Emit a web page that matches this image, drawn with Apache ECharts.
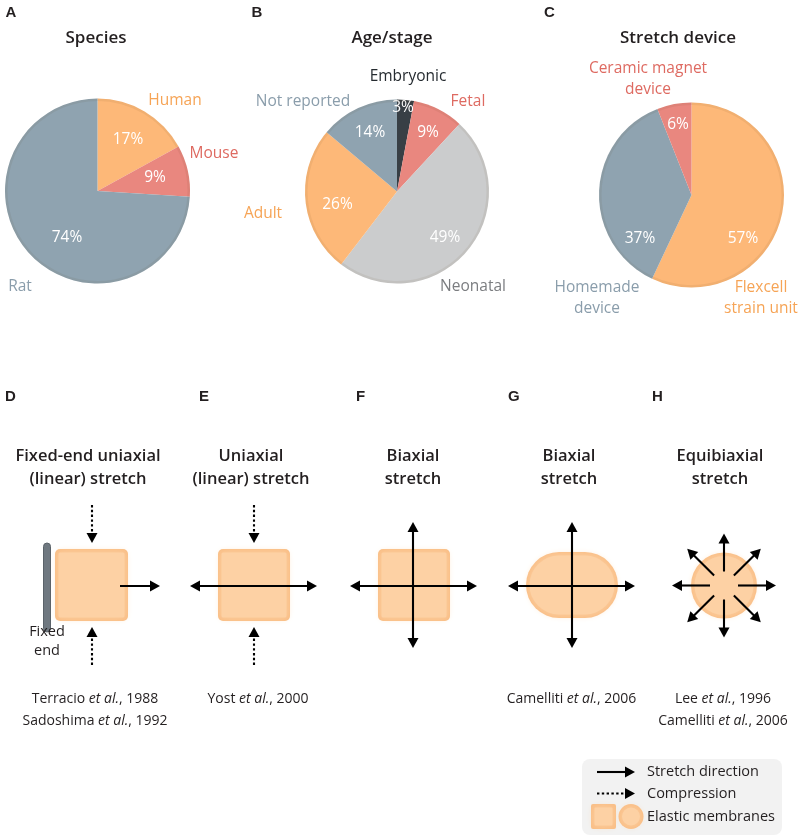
<!DOCTYPE html>
<html><head><meta charset="utf-8">
<script src="https://cdn.jsdelivr.net/npm/echarts@6/dist/echarts.min.js"></script>
<style>html,body{margin:0;padding:0;background:#fff}#c{width:800px;height:838px}</style>
</head><body><div id="c"></div>
<script>
// ---- data ----
const speciesNames = ['Human', 'Mouse', 'Rat'];
const speciesValues = [17, 9, 74];
const stageNames = ['Embryonic', 'Fetal', 'Neonatal', 'Adult', 'Not reported'];
const stageValues = [3, 9, 49, 26, 14];
const deviceNames = ['Flexcell\nstrain unit', 'Homemade\ndevice', 'Ceramic magnet\ndevice'];
const deviceValues = [57, 37, 6];
const pieTitles = ['Species', 'Age/stage', 'Stretch device'];
const stretchTitles = ['Fixed-end uniaxial\n(linear) stretch', 'Uniaxial\n(linear) stretch', 'Biaxial\nstretch', 'Biaxial\nstretch', 'Equibiaxial\nstretch'];
const citations = [
  ['Terracio', '1988', 'Sadoshima', '1992'],
  ['Yost', '2000'],
  [],
  ['Camelliti', '2006'],
  ['Lee', '1996', 'Camelliti', '2006']
];
const legendItems = ['Stretch direction', 'Compression', 'Elastic membranes'];

// ---- styles / layout ----
const F = '"Open Sans", "Noto Sans", sans-serif';
const FB = '"Liberation Sans", Arial, sans-serif';
const C = {orange:'#fdb878', red:'#e9877f', blue:'#8fa3b0', grey:'#cbcccd', dark:'#383f45'};
const T = {orange:'#f6a456', red:'#de6a61', blue:'#8a9dab', grey:'#7b7d80', dark:'#252b30'};
const INK = '#231f20';

const pies = [
  {names: speciesNames, values: speciesValues, fills:[C.orange, C.red, C.blue], text:[T.orange, T.red, T.blue],
   center:[97.5, 191], r:92.5, title:[96, 38], letter:['A', 5.5, 12.5],
   pct:[[128,140],[155,178],[67,238]], lab:[[175,101],[214,154],[20,287]]},
  {names: stageNames, values: stageValues, fills:[C.dark, C.red, C.grey, C.orange, C.blue], text:[T.dark, T.red, T.grey, T.orange, T.blue],
   center:[397, 191.5], r:92, title:[392, 38], letter:['B', 251.5, 12.5],
   pct:[[403,108],[428,132.5],[445,238],[337.5,205],[370,132.5]], lab:[[408,76.5],[468,101.5],[473,286.5],[263,214],[303,101.5]]},
  {names: deviceNames, values: deviceValues, fills:[C.orange, C.blue, C.red], text:[T.orange, T.blue, T.red],
   center:[691.5, 195], r:92.5, title:[678, 38], letter:['C', 544, 12.5],
   pct:[[743,239],[640,239],[678,125]], lab:[[761,298],[597,298],[648,79]]}
];

const series = [];
pies.forEach(p => {
  const base = {type:'pie', center:p.center, radius:p.r, startAngle:90, clockwise:true, silent:true,
    animation:false, avoidLabelOverlap:false, labelLine:{show:false}};
  series.push(Object.assign({}, base, {
    data: p.names.map((n, i) => ({name:n, value:p.values[i], itemStyle:{color:p.fills[i]}})),
    label:{show:true, position:'inside', formatter:'{c}%', color:'#fff', fontSize:15.5, fontFamily:F},
    labelLayout: prm => ({x:p.pct[prm.dataIndex][0], y:p.pct[prm.dataIndex][1], align:'center', verticalAlign:'middle'})
  }));
  // subtle darker rim
  series.push(Object.assign({}, base, {
    radius:[p.r - 2.5, p.r], z:3,
    data: p.names.map((n, i) => ({name:n, value:p.values[i], itemStyle:{color:'rgba(90,50,20,0.07)'}})),
    label:{show:false}
  }));
  series.push(Object.assign({}, base, {
    z:4,
    data: p.names.map((n, i) => ({name:n, value:p.values[i], itemStyle:{color:'rgba(0,0,0,0)'},
      label:{color:p.text[i]}})),
    label:{show:true, position:'inside', formatter:'{b}', fontSize:15.5, lineHeight:21, fontFamily:F},
    labelLayout: prm => ({x:p.lab[prm.dataIndex][0], y:p.lab[prm.dataIndex][1], align:'center', verticalAlign:'middle'})
  }));
});

// ---- graphic helpers ----
const g = [];
function text(x, y, s, o) {
  g.push({type:'text', x:x, y:y, z:10, silent:true, style:Object.assign({text:s, fill:INK, fontFamily:F, fontSize:14,
    align:'center', verticalAlign:'middle'}, o || {})});
}
function head(x, y, a) {
  const L = 10, W = 5.5, c = Math.cos(a), s = Math.sin(a);
  g.push({type:'polygon', z:6, silent:true, shape:{points:[[x, y],
    [x - L*c + W*s, y - L*s - W*c], [x - L*c - W*s, y - L*s + W*c]]}, style:{fill:'#000'}});
}
function arrow(x1, y1, x2, y2, dashed, both) {
  const a = Math.atan2(y2 - y1, x2 - x1), c = Math.cos(a), s = Math.sin(a);
  const sx = both ? x1 + 6*c : x1, sy = both ? y1 + 6*s : y1;
  g.push({type:'line', z:5, silent:true, shape:{x1:sx, y1:sy, x2:x2 - 6*c, y2:y2 - 6*s},
    style:{stroke:'#000', lineWidth:2.1, lineDash: dashed ? [2.4, 2.4] : null}});
  head(x2, y2, a);
  if (both) head(x1, y1, a + Math.PI);
}
function membrane(type, shape, inset) {
  g.push({type:type, z:2, silent:true, shape:shape, style:{fill:'#f9be86'}});
  g.push({type:type, z:3, silent:true, shape:inset, style:{fill:'#fdd1a4', shadowBlur:7, shadowColor:'#fdd1a4'}});
}
function rectMem(x, y, w, h, r) {
  const d = 3.5;
  membrane('rect', {x:x, y:y, width:w, height:h, r:r}, {x:x+d, y:y+d, width:w-2*d, height:h-2*d, r:Math.max(r-d, 1)});
}
function circMem(cx, cy, r) {
  membrane('circle', {cx:cx, cy:cy, r:r}, {cx:cx, cy:cy, r:r-3.5});
}

// pie titles and letters
pies.forEach((p, k) => {
  text(p.title[0], p.title[1], pieTitles[k], {fontSize:17, fontWeight:600});
  text(p.letter[1], p.letter[2], p.letter[0], {fontFamily:FB, fontWeight:'bold', fontSize:15, align:'left'});
});

// lower panels
const panelLetters = ['D', 'E', 'F', 'G', 'H'];
const letterX = [5, 199, 356, 508, 652];
const titleX = [88, 251, 413, 569, 720];
const citeX = [95, 258, 413, 571.5, 723];
panelLetters.forEach((L, k) => {
  text(letterX[k], 396.5, L, {fontFamily:FB, fontWeight:'bold', fontSize:15, align:'left'});
  text(titleX[k], 468, stretchTitles[k], {fontSize:16.5, fontWeight:600, lineHeight:22.5});
  const c = citations[k];
  for (let j = 0; j < c.length; j += 2) {
    text(citeX[k], 699.5 + (j/2)*21.5, c[j] + ' {i|et al.}, ' + c[j+1],
      {fontSize:14, rich:{i:{fontStyle:'italic', fontSize:14, fontFamily:F, fill:INK}}});
  }
});

// D: fixed-end uniaxial
g.push({type:'rect', z:2, silent:true, shape:{x:43.5, y:543, width:7, height:89, r:3.5}, style:{fill:'#6f7880', stroke:'#5a6269', lineWidth:1}});
rectMem(55, 549, 73, 72, 5);
arrow(120, 586, 160, 586, false, false);
arrow(92, 505, 92, 543, true, false);
arrow(92, 665, 92, 627, true, false);
text(47, 641, 'Fixed\nend', {fontSize:14.5, lineHeight:19});
// E: uniaxial
rectMem(218, 549, 72, 72, 5);
arrow(190, 586, 317, 586, false, true);
arrow(254, 505, 254, 543, true, false);
arrow(254, 665, 254, 627, true, false);
// F: biaxial square
rectMem(378, 549, 72, 72, 5);
arrow(350, 586, 477, 586, false, true);
arrow(413, 648, 413, 522, false, true);
// G: biaxial stadium
rectMem(526, 552, 92, 66, 33);
arrow(508, 586, 635, 586, false, true);
arrow(572, 648, 572, 522, false, true);
// H: equibiaxial circle
circMem(724, 585.5, 33);
for (let k = 0; k < 8; k++) {
  const a = k * Math.PI / 4, c = Math.cos(a), s = Math.sin(a);
  arrow(724 + 14*c, 585.5 + 14*s, 724 + 52*c, 585.5 + 52*s, false, false);
}

// legend
g.push({type:'rect', z:1, silent:true, shape:{x:582, y:759, width:200, height:76, r:8}, style:{fill:'#f2f2f2'}});
arrow(597, 772, 635, 772, false, false);
arrow(597, 793.5, 635, 793.5, true, false);
rectMem(591, 804, 25, 25, 2);
circMem(631, 816.5, 12.5);
legendItems.forEach((s, i) => text(647, [772, 793.5, 816.5][i], s, {fontSize:14.5, align:'left'}));

const chart = echarts.init(document.getElementById('c'), null, {renderer:'canvas'});
chart.setOption({animation:false, backgroundColor:'#fff', series:series, graphic:{elements:g}});
</script></body></html>
